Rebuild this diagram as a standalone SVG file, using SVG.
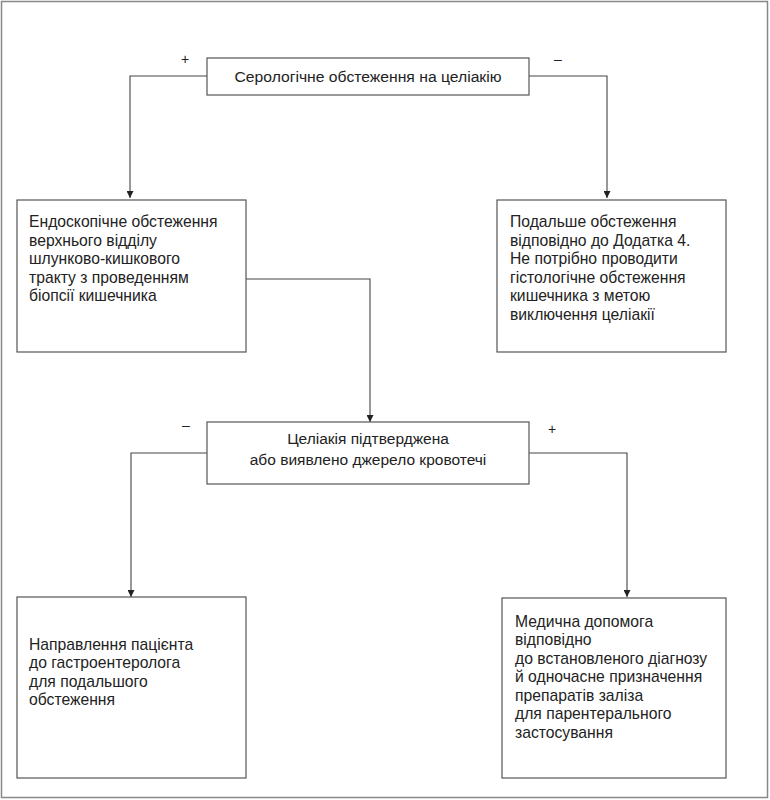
<svg xmlns="http://www.w3.org/2000/svg" width="770" height="800" viewBox="0 0 770 800">
<style>
.box{fill:#fff;stroke:#555;stroke-width:1.2}
.frame{fill:none;stroke:#888;stroke-width:1.5}
.ln{fill:none;stroke:#444;stroke-width:1.1}
.t{font-family:"Liberation Sans",Arial,sans-serif;font-size:15.7px;fill:#222}
.c{font-family:"Liberation Sans",Arial,sans-serif;font-size:15.5px;fill:#222;text-anchor:middle}
.s{font-family:"Liberation Sans",Arial,sans-serif;font-size:14px;fill:#222;text-anchor:middle}
</style>
<defs>
<marker id="ar" viewBox="0 0 10 10" refX="10" refY="5" markerWidth="7" markerHeight="7" markerUnits="userSpaceOnUse" orient="auto">
<path d="M0,0 L10,5 L0,10 z" fill="#222"/>
</marker>
</defs>
<rect class="frame" x="1.5" y="1.5" width="766" height="796"/>
<g id="connectors">
<polyline class="ln" points="207,76 130,76 130,198" marker-end="url(#ar)"/>
<polyline class="ln" points="529,76 607,76 607,198" marker-end="url(#ar)"/>
<polyline class="ln" points="246,279 370,279 370,422" marker-end="url(#ar)"/>
<polyline class="ln" points="207,453 131,453 131,597" marker-end="url(#ar)"/>
<polyline class="ln" points="529,453 627,453 627,597" marker-end="url(#ar)"/>
<text class="s" x="185" y="64">+</text>
<text class="s" x="558" y="64">–</text>
<text class="s" x="186" y="430">–</text>
<text class="s" x="552" y="434">+</text>
</g>
<g id="n1">
<rect class="box" x="207" y="58" width="322" height="37"/>
<text class="c" x="368" y="82" textLength="267" lengthAdjust="spacingAndGlyphs">Серологічне обстеження на целіакію</text>
</g>
<g id="n2">
<rect class="box" x="17" y="200" width="229" height="152"/>
<text class="t" x="29" y="227">Ендоскопічне обстеження</text>
<text class="t" x="29" y="246">верхнього відділу</text>
<text class="t" x="29" y="264">шлунково-кишкового</text>
<text class="t" x="29" y="283">тракту з проведенням</text>
<text class="t" x="29" y="301">біопсії кишечника</text>
</g>
<g id="n3">
<rect class="box" x="497" y="200" width="229" height="152"/>
<text class="t" x="510" y="227">Подальше обстеження</text>
<text class="t" x="510" y="246">відповідно до Додатка 4.</text>
<text class="t" x="510" y="264">Не потрібно проводити</text>
<text class="t" x="510" y="283">гістологічне обстеження</text>
<text class="t" x="510" y="301">кишечника з метою</text>
<text class="t" x="510" y="320">виключення целіакії</text>
</g>
<g id="n4">
<rect class="box" x="207" y="422" width="322" height="62"/>
<text class="c" x="368" y="444">Целіакія підтверджена</text>
<text class="c" x="368" y="465">або виявлено джерело кровотечі</text>
</g>
<g id="n5">
<rect class="box" x="17" y="597" width="229" height="181"/>
<text class="t" x="29" y="650">Направлення пацієнта</text>
<text class="t" x="29" y="668">до гастроентеролога</text>
<text class="t" x="29" y="687">для подальшого</text>
<text class="t" x="29" y="705">обстеження</text>
</g>
<g id="n6">
<rect class="box" x="502" y="598" width="224" height="180"/>
<text class="t" x="515" y="627">Медична допомога</text>
<text class="t" x="515" y="645">відповідно</text>
<text class="t" x="515" y="664">до встановленого діагнозу</text>
<text class="t" x="515" y="682">й одночасне призначення</text>
<text class="t" x="515" y="701">препаратів заліза</text>
<text class="t" x="515" y="719">для парентерального</text>
<text class="t" x="515" y="738">застосування</text>
</g>
</svg>
